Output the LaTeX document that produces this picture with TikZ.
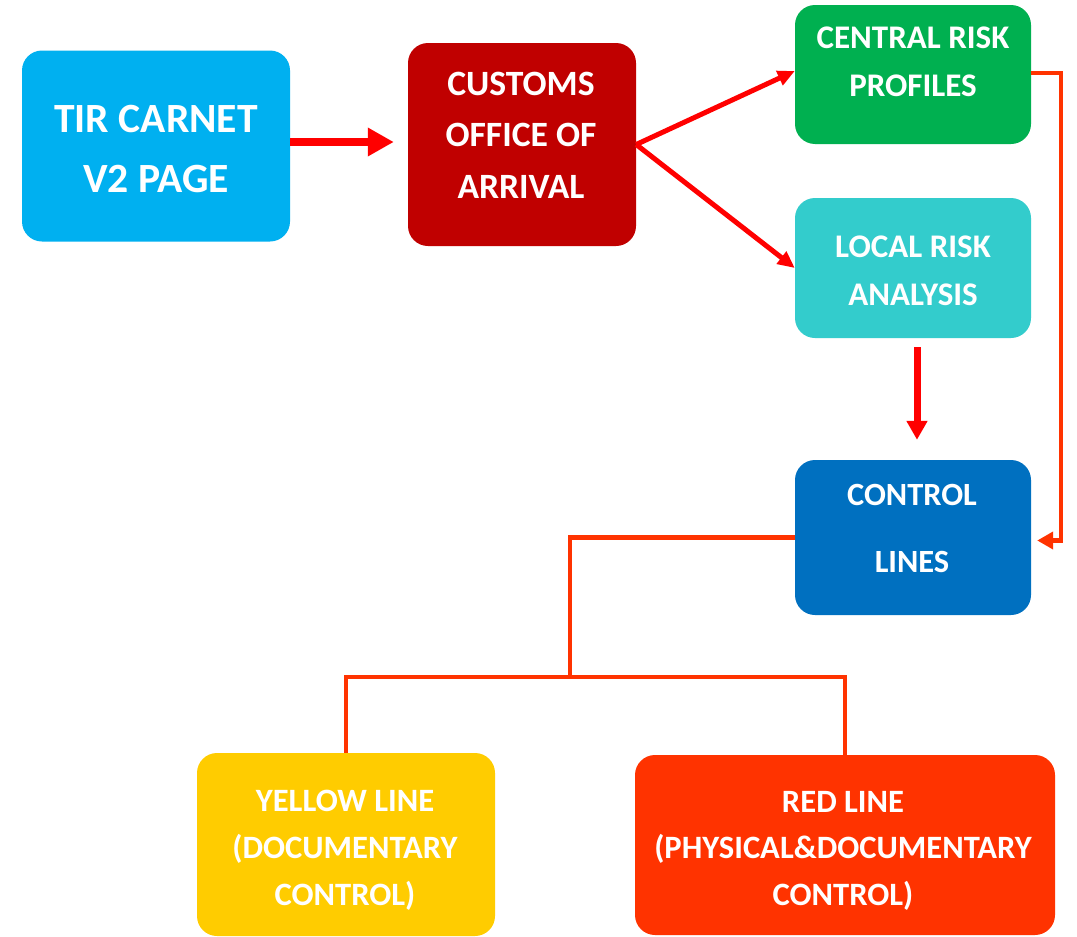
\documentclass[tikz,border=0pt]{standalone}
\usepackage{fontspec}
\setmainfont{Carlito}
\usetikzlibrary{arrows.meta}
\definecolor{cTir}{HTML}{00B0F0}
\definecolor{cCust}{HTML}{C00000}
\definecolor{cCent}{HTML}{00B050}
\definecolor{cLocal}{HTML}{33CCCC}
\definecolor{cCtrl}{HTML}{0070C0}
\definecolor{cYel}{HTML}{FFCC00}
\definecolor{cRed}{HTML}{FF3300}
\definecolor{cArrow}{HTML}{FF0000}
\begin{document}
\begin{tikzpicture}[x=1pt,y=-1pt,
  box/.style={rounded corners=20pt, inner sep=0pt, draw=none},
  lbl/.style={text=white, anchor=base, inner sep=0pt, font=\bfseries\fontsize{#1}{#1}\selectfont},
  redarrow/.style={draw=cArrow, line width=#1},
  orline/.style={draw=cRed, line width=4.5pt}
]
\useasboundingbox (0,0) rectangle (1077,937);
\fill[white] (0,0) rectangle (1077,937);
% boxes
\node[box, fill=cTir,   minimum width=268pt, minimum height=191pt] (tir)   at (156,146) {};
\node[box, fill=cCust,  minimum width=228pt, minimum height=203pt] (cust)  at (522,144.5) {};
\node[box, fill=cCent,  minimum width=236pt, minimum height=139pt] (cent)  at (913,74.5) {};
\node[box, fill=cLocal, minimum width=236pt, minimum height=140pt] (local) at (913,268) {};
\node[box, fill=cCtrl,  minimum width=236pt, minimum height=155pt] (ctrl)  at (913,537.5) {};
\node[box, fill=cYel,   minimum width=298pt, minimum height=183pt] (yel)   at (346,844.5) {};
\node[box, fill=cRed,   minimum width=420pt, minimum height=180pt] (red)   at (845,845) {};
% labels
\node[lbl=41.6] (tir1) at (156,132) {TIR CARNET};
\node[lbl=41.6] (tir2) at (156,192) {V2 PAGE};
\node[lbl=35.6] (cu1) at (521,95) {CUSTOMS};
\node[lbl=35.6] (cu2) at (521,146) {OFFICE OF};
\node[lbl=35.6] (cu3) at (521,198) {ARRIVAL};
\node[lbl=33] (ce1) at (913,48) {CENTRAL RISK};
\node[lbl=33] (ce2) at (913,96) {PROFILES};
\node[lbl=33] (lo1) at (913,257) {LOCAL RISK};
\node[lbl=33] (lo2) at (913,305) {ANALYSIS};
\node[lbl=32.4] (co1) at (912,505) {CONTROL};
\node[lbl=32.4] (co2) at (912,572) {LINES};
\node[lbl=32.6] (ye1) at (345,811) {YELLOW LINE};
\node[lbl=32.6] (ye2) at (345,858) {(DOCUMENTARY};
\node[lbl=32.6] (ye3) at (345,905) {CONTROL)};
\node[lbl=32.6] (re1) at (843,812) {RED LINE};
\node[lbl=32.6] (re2) at (843,858) {(PHYSICAL\&DOCUMENTARY};
\node[lbl=32.6] (re3) at (843,905) {CONTROL)};
% arrows
\draw[redarrow=8pt, -{Triangle[length=26pt,width=27pt]}, shorten >=14pt]
  ([yshift=4pt]tir.east) -- ([yshift=4pt]cust.west |- tir.east);
\draw[redarrow=5pt, -{Triangle[length=17pt,width=15pt]}]
  (cust.east) -- ([yshift=3.5pt]cent.west);
\draw[redarrow=5pt, -{Triangle[length=17pt,width=15pt]}]
  (cust.east) -- (local.west);
\draw[redarrow=7pt, -{Triangle[length=19pt,width=20pt]}, shorten <=9pt, shorten >=20pt]
  ([xshift=4pt]local.south) -- ([xshift=4pt]ctrl.north);
\coordinate (rt) at (1061,73);
\draw[orline, -{Triangle[length=16pt,width=17pt]}, shorten >=6pt]
  ([yshift=1.5pt]cent.east) -- (rt) |- ([yshift=-3pt]ctrl.east);
\coordinate (j) at (570,677);
\draw[orline] (ctrl.west) -| (j);
\draw[orline] (yel.north) -- (yel.north |- j) -- (red.north |- j) -- (red.north);
\end{tikzpicture}
\end{document}
